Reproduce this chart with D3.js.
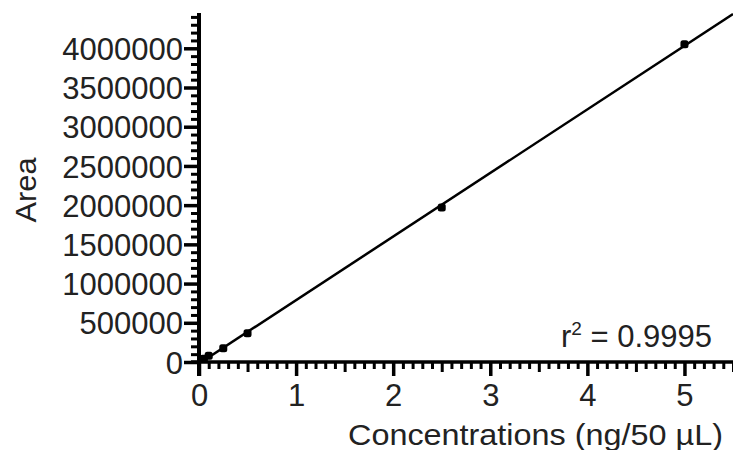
<!DOCTYPE html>
<html>
<head>
<meta charset="utf-8">
<script src="https://cdn.jsdelivr.net/npm/d3@7"></script>
<style>
  body { margin: 0; background: #fff; }
  svg text { font-family: "Liberation Sans", Arial, sans-serif; fill: #222; }
</style>
</head>
<body>
<svg id="canvas" width="733" height="450"></svg>
<script>
// standards
let conc = [0.05, 0.1, 0.25, 0.5, 2.5, 5];
let area = [40000, 80000, 175000, 365000, 1970000, 4050000];

let xTicks = [0, 1, 2, 3, 4, 5];
let yTicks = [0, 500000, 1000000, 1500000, 2000000, 2500000, 3000000, 3500000, 4000000];
let r2Text = '0.9995';

let svg = d3.select('#canvas');

let x = d3.scaleLinear().domain([0, 5.5]).range([199, 733]);
let y = d3.scaleLinear().domain([0, 4450000]).range([362, 13]);

// least squares fit
let mx = d3.mean(conc), my = d3.mean(area);
let sxy = d3.sum(conc, (c, i) => (c - mx) * (area[i] - my));
let sxx = d3.sum(conc, c => (c - mx) * (c - mx));
let slope = sxy / sxx;
let icpt = my - slope * mx;

svg.append('clipPath').attr('id', 'plot')
  .append('rect')
  .attr('x', x(0)).attr('y', y(4450000))
  .attr('width', x(5.5) - x(0)).attr('height', y(0) - y(4450000));

// minor ticks
let xMinor = d3.range(0, 56).map(d => d / 10).filter(d => d % 1 !== 0);
let yMinor = d3.range(0, 45).map(d => d * 100000).filter(d => d % 500000 !== 0);

let gx = svg.append('g').attr('transform', `translate(0,${y(0)})`);
gx.call(d3.axisBottom(x).tickValues(xMinor).tickSize(7).tickFormat(''));
gx.selectAll('line').attr('stroke-width', 3).attr('stroke', '#000')
  .filter(d => Math.abs(d * 10 % 10 - 5) < 0.01).attr('y2', 10);
gx.select('.domain').remove();

let gx2 = svg.append('g').attr('transform', `translate(0,${y(0)})`);
gx2.call(d3.axisBottom(x).tickValues(xTicks).tickSize(14).tickPadding(11).tickFormat(d3.format('d')));
gx2.select('.domain').attr('stroke-width', 3.5).attr('d', `M${x(0) - 8},0H733`);
gx2.selectAll('line').attr('stroke-width', 3.5).attr('stroke', '#000');
gx2.selectAll('text').attr('font-size', 31).attr('dy', '0.62em');

let gy = svg.append('g').attr('transform', `translate(${x(0)},0)`);
gy.call(d3.axisLeft(y).tickValues(yMinor).tickSize(8).tickFormat(''));
gy.selectAll('line').attr('stroke-width', 3).attr('stroke', '#000');
gy.select('.domain').remove();

let gy2 = svg.append('g').attr('transform', `translate(${x(0)},0)`);
gy2.call(d3.axisLeft(y).tickValues(yTicks).tickSize(15).tickPadding(1).tickFormat(d3.format('d')));
gy2.select('.domain').attr('stroke-width', 4).attr('d', `M0,${y(4450000)}V${y(0) + 14}`);
gy2.selectAll('line').attr('stroke-width', 3.5).attr('stroke', '#000');
gy2.selectAll('text').attr('font-size', 31).attr('dy', '0.36em');

// fit line
svg.append('line')
  .attr('clip-path', 'url(#plot)')
  .attr('x1', x(0)).attr('y1', y(icpt))
  .attr('x2', x(5.5)).attr('y2', y(icpt + slope * 5.5))
  .attr('stroke', '#000').attr('stroke-width', 2.5);

svg.selectAll('rect.pt')
  .data(conc)
  .enter()
  .append('rect')
  .attr('class', 'pt')
  .attr('x', d => x(d) - 4)
  .attr('y', (d, i) => y(area[i]) - 4)
  .attr('width', 8).attr('height', 8).attr('rx', 2.5)
  .attr('fill', '#000');

// labels
svg.append('text')
  .attr('transform', 'translate(36,190) rotate(-90)')
  .attr('text-anchor', 'middle')
  .attr('font-size', 30)
  .attr('textLength', 65).attr('lengthAdjust', 'spacingAndGlyphs')
  .text('Area');

svg.append('text')
  .attr('x', 723).attr('y', 445)
  .attr('text-anchor', 'end')
  .attr('font-size', 30)
  .attr('textLength', 375).attr('lengthAdjust', 'spacingAndGlyphs')
  .text('Concentrations (ng/50 \u00b5L)');

let r2 = svg.append('text')
  .attr('x', 712).attr('y', 347)
  .attr('text-anchor', 'end')
  .attr('font-size', 31);
r2.append('tspan').text('r');
r2.append('tspan').attr('font-size', 19).attr('dy', -12).text('2');
r2.append('tspan').attr('dy', 12).text(' = ' + r2Text);
</script>
</body>
</html>
